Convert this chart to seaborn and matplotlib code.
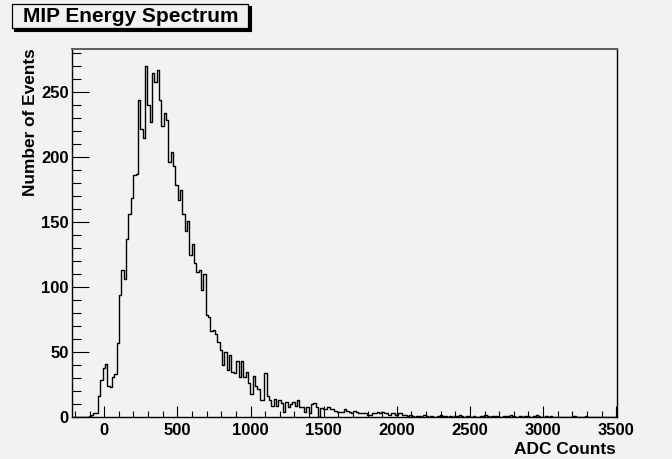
import numpy as np
import pandas as pd
import matplotlib
matplotlib.use("Agg")
import matplotlib.pyplot as plt
from matplotlib.ticker import MultipleLocator
from matplotlib.patches import Rectangle
import seaborn as sns

# ---- data ----
x_start = -218          # left edge of first bin (ADC counts)
bin_width = 16          # ADC counts per bin
counts = [
    0, 0, 0, 0, 0, 0, 0,
    1, 2, 3, 3,
    16, 29, 38, 41, 24, 23, 31, 33, 57, 94, 113, 106, 137, 156, 169, 186, 187, 244, 222, 215,
    270, 240, 227, 265, 258, 267, 244, 224, 234, 229, 196, 204, 193, 179, 167, 175, 156, 143, 151, 125,
    133, 119, 112, 113, 98, 110, 79, 77, 66, 67, 64, 58, 52, 40, 50, 36, 48, 35, 34, 43, 31, 43, 31, 35,
    26, 18, 32, 24, 22,
    13, 13, 34, 16, 13, 9, 14, 9, 13, 11, 4, 12, 8, 10, 12, 9, 13, 8, 8, 4, 8, 3, 10, 11,
    8, 0, 7, 6, 6, 8, 6, 6, 5, 4, 4, 4, 6, 5, 4, 3, 5, 4, 3, 3, 3, 3, 2, 2,
    3, 3, 4, 3, 4, 3, 3, 2, 3, 3, 2, 3, 3, 2, 2, 1, 2,
    1, 0, 1, 1, 0, 2, 1, 0, 1, 0, 0, 1, 2, 1, 1, 0, 1, 0, 1, 1, 2, 1, 0, 1, 1, 0, 1, 0, 0, 1,
    1, 2, 1, 0, 1, 1, 1, 0, 0, 1, 1, 1, 2, 1, 0, 0, 1, 0, 1, 1, 0, 0, 1, 2, 1, 0, 0, 1, 0, 1,
    0, 0, 0, 0, 0, 0, 0, 0, 0, 1, 0, 0, 0, 0, 1, 0, 0, 0, 0, 0, 0, 0, 0, 0, 0, 0, 0, 0,
]
title = "MIP Energy Spectrum"
x_label = "ADC Counts"
y_label = "Number of Events"
x_range = (-218, 3507)
y_range = (0, 283.3)

edges = x_start + bin_width * np.arange(len(counts) + 1)
centers = 0.5 * (edges[:-1] + edges[1:])
df = pd.DataFrame({"adc": centers, "n": np.asarray(counts, dtype=float)})

BG = "#f2f2f2"
sns.set_theme(style="white")
plt.rcParams["font.family"] = ["Liberation Sans", "DejaVu Sans"]
plt.rcParams["text.color"] = "black"
plt.rcParams["axes.labelcolor"] = "black"
plt.rcParams["xtick.color"] = "black"
plt.rcParams["ytick.color"] = "black"

W, H = 672, 459
fig = plt.figure(figsize=(W / 100, H / 100), dpi=100, facecolor=BG)
ax = fig.add_axes([72.3 / W, 1 - 417.3 / H, (617.3 - 72.3) / W, (417.3 - 49) / H])
ax.set_facecolor(BG)

sns.histplot(data=df, x="adc", weights="n", bins=[float(e) for e in edges],
             element="step", fill=False, color="black", linewidth=1.0, ax=ax)

ax.set_xlim(*x_range)
ax.set_ylim(*y_range)
ax.set_xlabel("")
ax.set_ylabel("")

ax.xaxis.set_major_locator(MultipleLocator(500))
ax.xaxis.set_minor_locator(MultipleLocator(100))
ax.yaxis.set_major_locator(MultipleLocator(50))
ax.yaxis.set_minor_locator(MultipleLocator(10))

ax.tick_params(axis="x", which="major", direction="in", length=7.9, width=0.8,
               color="black", labelcolor="black", pad=4.3, labelsize=12,
               bottom=True, top=False)
ax.tick_params(axis="x", which="minor", direction="in", length=4.0, width=0.8,
               color="black", bottom=True, top=False)
ax.tick_params(axis="y", which="major", direction="in", length=12.2, width=0.8,
               color="black", labelcolor="black", pad=2.5, labelsize=12,
               left=True, right=False)
ax.tick_params(axis="y", which="minor", direction="in", length=6.3, width=0.8,
               color="black", left=True, right=False)
for lab in ax.get_xticklabels() + ax.get_yticklabels():
    lab.set_fontweight("bold")

for side in ["left", "bottom", "right"]:
    ax.spines[side].set_color("black")
    ax.spines[side].set_linewidth(1.0)
ax.spines["top"].set_color("#505050")
ax.spines["top"].set_linewidth(1.3)

# axis titles (ROOT style)
fig.text(616 / W, 1 - 449 / H, x_label, ha="right", va="center",
         fontsize=12.4, fontweight="bold", color="black")
fig.text(30.5 / W, 1 - 48 / H, y_label, ha="center", va="top", rotation=90,
         fontsize=12.4, fontweight="bold", color="black")

# title box with shadow
bx0, by0, bx1, by1 = 11.7, 4.0, 248.0, 28.0
shadow = Rectangle(((bx0 + 2.5) / W, 1 - (by1 + 2.5) / H),
                   (bx1 - bx0) / W, (by1 - by0) / H, transform=fig.transFigure,
                   facecolor="black", edgecolor="black", linewidth=0.8)
fig.patches.append(shadow)
box = Rectangle((bx0 / W, 1 - by1 / H), (bx1 - bx0) / W, (by1 - by0) / H,
                transform=fig.transFigure, facecolor=BG, edgecolor="black", linewidth=0.9)
fig.patches.append(box)
fig.text(23.0 / W, 1 - 17.0 / H, title, ha="left", va="center",
         fontsize=15, fontweight="bold", color="black")

fig.savefig("out.png", dpi=100, facecolor=BG)
